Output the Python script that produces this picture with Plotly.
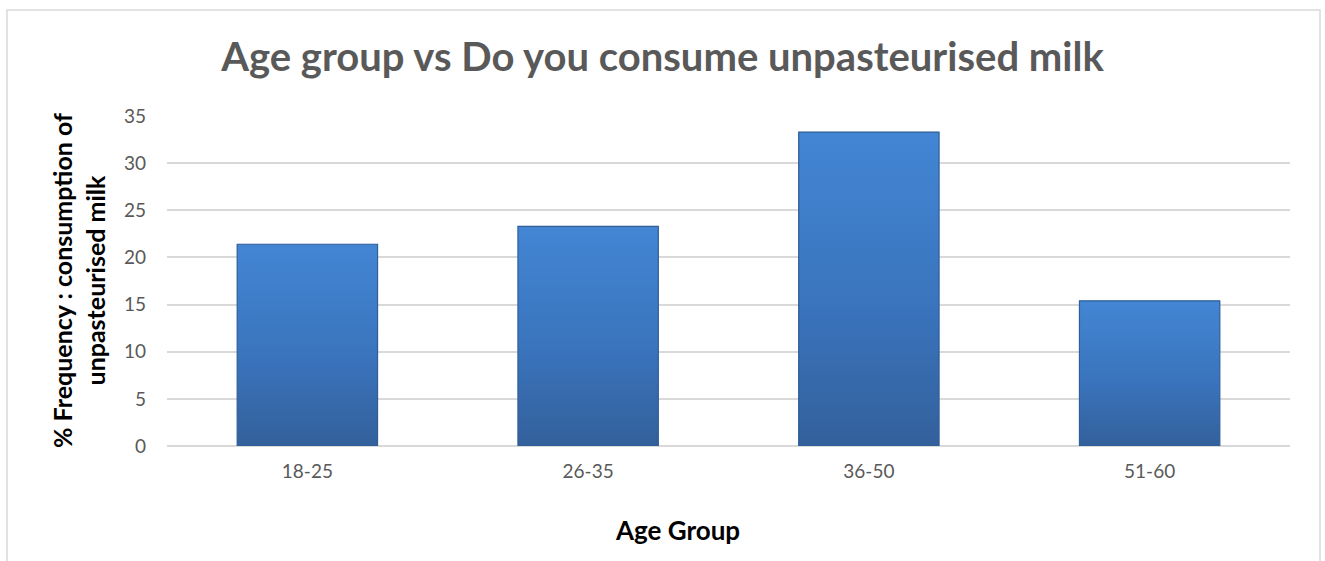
import plotly.graph_objects as go

# Share of respondents consuming unpasteurised milk, by age group
age_groups = ["18-25", "26-35", "36-50", "51-60"]
pct_frequency = [21.4, 23.3, 33.3, 15.4]
y_ticks = [0, 5, 10, 15, 20, 25, 30, 35]

FONT = "Lato"
GRAY = "#595959"
BAR_WIDTH = 0.5

fig = go.Figure()

# Each column is a filled rectangle so it can carry a vertical shading
for i, (label, value) in enumerate(zip(age_groups, pct_frequency)):
    x0, x1 = i - BAR_WIDTH / 2, i + BAR_WIDTH / 2
    fig.add_trace(go.Scatter(
        x=[x0, x1, x1, x0, x0],
        y=[0, 0, value, value, 0],
        mode="lines",
        fill="toself",
        fillgradient=dict(
            type="vertical",
            colorscale=[[0, "#33609b"], [0.45, "#3a74bd"], [1, "#4386d4"]],
        ),
        line=dict(color="#2f5e99", width=1.2),
        name=label,
        hoverinfo="skip",
    ))

# Invisible bars carry the hover values
fig.add_trace(go.Bar(
    x=list(range(len(age_groups))),
    y=pct_frequency,
    width=BAR_WIDTH,
    marker=dict(color="rgba(0,0,0,0)"),
    customdata=age_groups,
    hovertemplate="%{customdata}: %{y}<extra></extra>",
))

fig.update_layout(
    width=1325,
    height=561,
    margin=dict(l=167, r=35, t=116, b=115),
    paper_bgcolor="white",
    plot_bgcolor="white",
    showlegend=False,
    font=dict(family=FONT, color=GRAY),
    title=dict(
        text="<b>Age group vs Do you consume unpasteurised milk</b>",
        x=0.5, xanchor="center",
        y=1 - 57 / 561, yanchor="middle", yref="container",
        font=dict(family=FONT, size=40, color=GRAY),
    ),
    xaxis=dict(
        range=[-0.5, len(age_groups) - 0.5],
        tickvals=list(range(len(age_groups))),
        ticktext=age_groups,
        showgrid=False,
        showline=False,
        zeroline=False,
        tickfont=dict(family=FONT, size=19, color=GRAY),
        ticklabelstandoff=12,
        fixedrange=True,
    ),
    yaxis=dict(
        range=[0, 35],
        tickvals=y_ticks,
        showgrid=True,
        gridcolor="#d9d9d9",
        gridwidth=1.5,
        zeroline=True,
        zerolinecolor="#d9d9d9",
        zerolinewidth=1.5,
        showline=False,
        tickfont=dict(family=FONT, size=19, color=GRAY),
        ticklabelstandoff=20,
        fixedrange=True,
    ),
    annotations=[
        dict(
            text="<b>% Frequency : consumption of<br>unpasteurised milk</b>",
            x=(78 - 167) / 1123, y=0.5, xref="paper", yref="paper",
            xanchor="center", yanchor="middle", textangle=-90,
            showarrow=False,
            font=dict(family=FONT, size=25, color="black"),
        ),
        dict(
            text="<b>Age Group</b>",
            x=(677 - 167) / 1123, y=(446 - 530) / 330, xref="paper", yref="paper",
            xanchor="center", yanchor="middle",
            showarrow=False,
            font=dict(family=FONT, size=26, color="black"),
        ),
    ],
    shapes=[
        dict(
            type="rect", xref="paper", yref="paper",
            x0=(7 - 167) / 1123, x1=(1320 - 167) / 1123,
            y0=-0.6, y1=1 + (116 - 10) / 330,
            line=dict(color="#d9d9d9", width=1.5),
            fillcolor="rgba(0,0,0,0)", layer="below",
        )
    ],
)

fig.write_html("out.html")
